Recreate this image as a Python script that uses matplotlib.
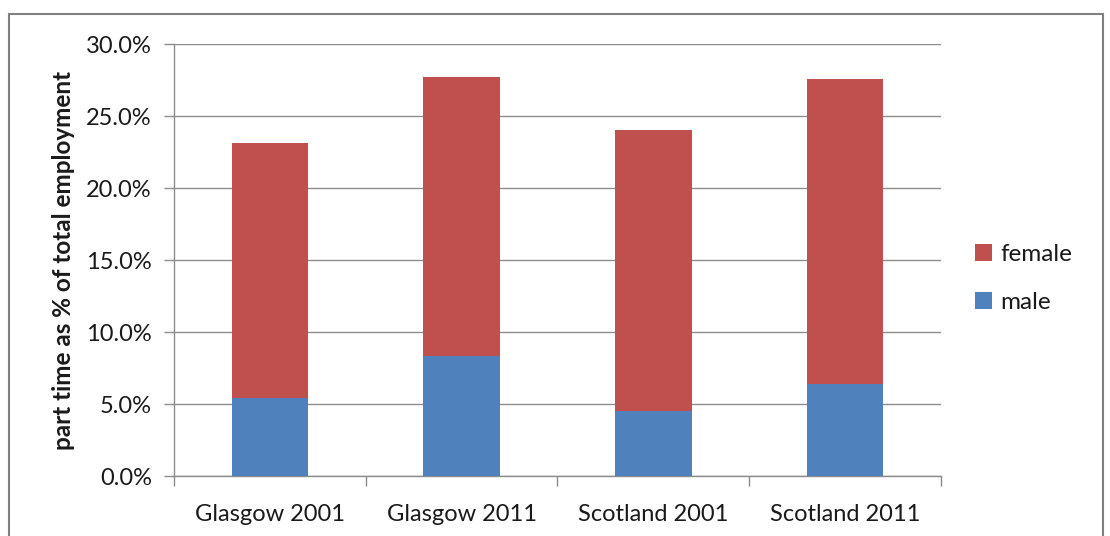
import numpy as np
import matplotlib.pyplot as plt
from matplotlib.patches import Rectangle
from matplotlib.ticker import FuncFormatter, FixedLocator

categories = ['Glasgow 2001', 'Glasgow 2011', 'Scotland 2001', 'Scotland 2011']
male = [5.4, 8.35, 4.5, 6.4]
total = [23.1, 27.7, 24.0, 27.6]
female = [t - m for t, m in zip(total, male)]

plt.rcParams['font.family'] = ['Lato', 'DejaVu Sans']
GRID = '#8c8c8c'
TXT = '#1a1a1a'

fig = plt.figure(figsize=(11.1, 5.36), dpi=100)
ax = fig.add_axes([0.1568, 0.1119, 0.6909, 0.806])

x = np.arange(len(categories))
ax.bar(x, male, 0.4, color='#4F81BD', label='male', zorder=3)
ax.bar(x, female, 0.4, bottom=male, color='#C0504D', label='female', zorder=3)

ax.set_xlim(-0.5, len(categories) - 0.5)
ax.set_ylim(0, 30)
ax.set_yticks(np.arange(0, 31, 5))
ax.yaxis.set_major_formatter(FuncFormatter(lambda v, p: f'{v:.1f}%'))
ax.grid(True, axis='y', color=GRID, linewidth=1, zorder=0)

# category labels in centre, tick marks on boundaries
ax.set_xticks(x)
ax.set_xticklabels(categories)
ax.tick_params(axis='x', which='major', length=0, pad=20, labelsize=17, labelcolor=TXT)
ax.xaxis.set_minor_locator(FixedLocator(np.arange(-0.5, len(categories), 1)))
ax.tick_params(axis='x', which='minor', length=7, color=GRID, width=1)
ax.tick_params(axis='y', length=7, color=GRID, width=1, pad=9, labelsize=17, labelcolor=TXT)

for s in ['top', 'right']:
    ax.spines[s].set_visible(False)
for s in ['left', 'bottom']:
    ax.spines[s].set_color(GRID)
    ax.spines[s].set_linewidth(1)

ax.set_ylabel('part time as % of total employment', fontsize=17.5, fontweight='bold',
              color=TXT, labelpad=8)

h, l = ax.get_legend_handles_labels()
fig.legend(h[::-1], l[::-1], loc='center left', bbox_to_anchor=(0.878, 0.481),
           frameon=False, fontsize=17.5, handlelength=0.7, handleheight=0.7,
           handletextpad=0.35, labelspacing=1.1, labelcolor=TXT,
           borderaxespad=0, borderpad=0)

# outer chart frame
fig.patches.append(Rectangle((9 / 1110, -0.05), (1103 - 9) / 1110, 1.05 - 14 / 536,
                             transform=fig.transFigure, fill=False,
                             edgecolor='#808080', linewidth=1.5))

fig.savefig('out.png', dpi=100)
